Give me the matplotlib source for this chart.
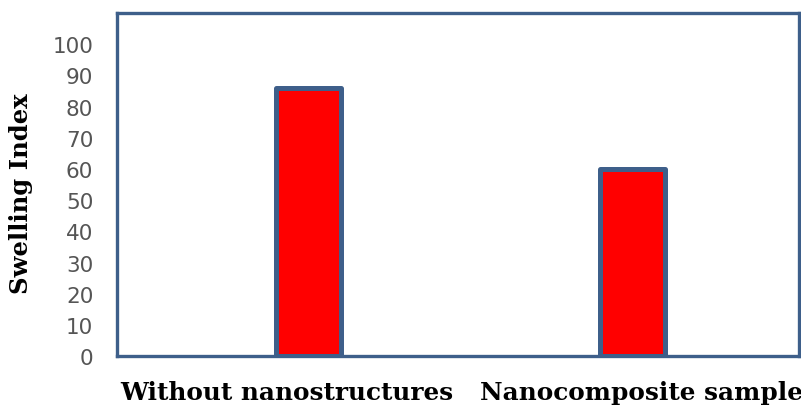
import numpy as np
import matplotlib.pyplot as plt

# ---------------------------------------------------------------
# Data
# ---------------------------------------------------------------
samples = ["Without nanostructures", "Nanocomposite sample"]
swelling_index = [86, 60]
y_ticks = list(range(0, 101, 10))

frame_color = "#3E5F8A"
bar_color = "#FF0000"

# ---------------------------------------------------------------
# Plot
# ---------------------------------------------------------------
fig = plt.figure(figsize=(8.01, 4.10), dpi=100)
ax = fig.add_axes([0.146, 0.129, 0.8515, 0.837])

x = np.arange(len(samples))
ax.bar(x, swelling_index, width=0.2, color=bar_color,
       edgecolor=frame_color, linewidth=3.6, joinstyle="round")

ax.set_xlim(-0.59, 1.515)
ax.set_ylim(0, 110)

ax.set_yticks(y_ticks)
ax.set_yticklabels([str(t) for t in y_ticks], fontsize=15.5,
                   color="#555555", family="DejaVu Sans")
ax.tick_params(axis="y", length=0, pad=17)
ax.set_xticks([])

for side in ["left", "right", "top", "bottom"]:
    ax.spines[side].set_color(frame_color)
    ax.spines[side].set_linewidth(2.4)

ax.set_ylabel("Swelling Index", fontsize=17.5, fontweight="bold",
              family="DejaVu Serif")
ax.yaxis.set_label_coords(-0.123, 0.475)

# category names sit under the frame
label_shift = [-0.065, 0.028]
for i, name in enumerate(samples):
    ax.text(x[i] + label_shift[i], -0.105, name,
            transform=ax.get_xaxis_transform(),
            ha="center", va="center", fontsize=17.8, fontweight="bold",
            family="DejaVu Serif", clip_on=False)

fig.savefig("out.png", dpi=100)
